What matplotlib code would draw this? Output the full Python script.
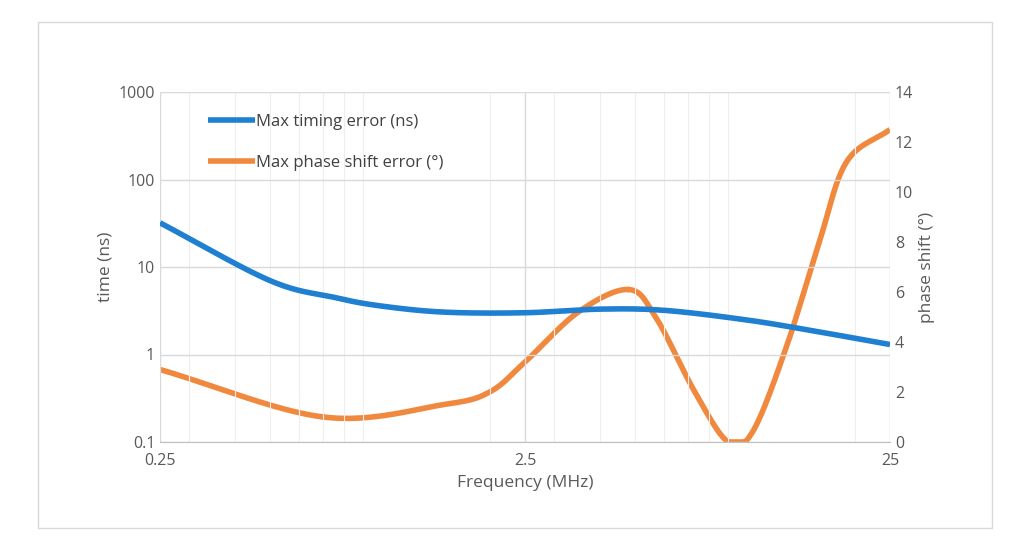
import numpy as np
import matplotlib
matplotlib.use("Agg")
import matplotlib.pyplot as plt
from matplotlib.patches import Rectangle
from matplotlib.ticker import FixedLocator, NullFormatter

plt.rcParams["font.family"] = "Open Sans"

freq_timing = [0.25, 0.5, 0.75, 1.0, 1.5, 2.5, 4.0, 6.0, 10.0, 15.0, 25.0]
timing_ns = [32, 7, 4.5, 3.6, 3.05, 3.0, 3.3, 3.2, 2.5, 1.9, 1.3]
freq_phase = [0.25, 0.7, 1.5, 2.0, 2.5, 3.5, 4.8, 5.7, 7.3, 9.0, 10.5, 13.0, 16.0, 19.0, 25.0]
phase_deg = [2.9, 1.0, 1.5, 2.0, 3.2, 5.2, 6.1, 5.0, 2.0, 0.0, 0.4, 3.8, 8.0, 11.2, 12.5]
xticks = [0.25, 2.5, 25]
xtick_labels = ["0.25", "2.5", "25"]
yticks_left = [0.1, 1, 10, 100, 1000]
ytick_left_labels = ["0.1", "1", "10", "100", "1000"]
yticks_right = [0, 2, 4, 6, 8, 10, 12, 14]

def smooth(x, y, n=40, logx=True, logy=False):
    x = np.log10(x) if logx else np.asarray(x, float)
    y = np.log10(y) if logy else np.asarray(y, float)
    P = np.column_stack([x, y])
    P = np.vstack([2 * P[0] - P[1], P, 2 * P[-1] - P[-2]])
    out = []
    for i in range(1, len(P) - 2):
        p0, p1, p2, p3 = P[i - 1], P[i], P[i + 1], P[i + 2]
        t = np.linspace(0, 1, n)[:, None]
        seg = 0.5 * ((2 * p1) + (-p0 + p2) * t + (2 * p0 - 5 * p1 + 4 * p2 - p3) * t ** 2
                     + (-p0 + 3 * p1 - 3 * p2 + p3) * t ** 3)
        out.append(seg)
    S = np.vstack(out)
    xs = 10 ** S[:, 0] if logx else S[:, 0]
    ys = 10 ** S[:, 1] if logy else S[:, 1]
    return xs, ys

fig = plt.figure(figsize=(10.24, 5.46), dpi=100)
fig.patches.append(Rectangle((38 / 1024, 1 - 528 / 546), (992 - 38) / 1024, (528 - 22) / 546,
                             transform=fig.transFigure, fill=False, ec="#d9d9d9", lw=1))
ax = fig.add_axes([160 / 1024, 1 - 442 / 546, 730 / 1024, 350 / 546])
ax2 = ax.twinx()
gray = "#595959"
ax.set_xscale("log"); ax.set_yscale("log")
ax.set_xlim(0.25, 25); ax.set_ylim(0.1, 1000)
ax2.set_ylim(0, 14)
ax.xaxis.set_major_locator(FixedLocator(xticks))
ax.set_xticklabels(xtick_labels)
minor = [m * d for d in (0.1, 1, 10) for m in range(2, 10) if 0.25 < m * d < 25]
minor += [0.3, 0.4, 0.5, 0.6, 0.7, 0.8, 0.9]
ax.xaxis.set_minor_locator(FixedLocator(sorted(set(minor))))
ax.xaxis.set_minor_formatter(NullFormatter())
ax.yaxis.set_major_locator(FixedLocator(yticks_left))
ax.set_yticklabels(ytick_left_labels)
ax.yaxis.set_minor_locator(FixedLocator([]))
ax2.set_yticks(yticks_right)
ax.grid(True, which="major", color="#d9d9d9", lw=1)
ax.grid(True, which="minor", axis="x", color="#eeeeee", lw=0.8)
for a in (ax, ax2):
    for s in a.spines.values():
        s.set_visible(False)
    a.tick_params(which="both", length=0, colors=gray, labelsize=11.5)
ax.spines["bottom"].set_visible(True); ax.spines["bottom"].set_color("#bfbfbf")
ax.tick_params(axis="x", pad=8)
ax.set_xlabel("Frequency (MHz)", color=gray, fontsize=12.5)
ax.set_ylabel("time (ns)", color=gray, fontsize=12.5)
ax2.set_ylabel("phase shift (°)", color=gray, fontsize=12.5)

bx, by = smooth(freq_timing, timing_ns, logy=True)
ox, oy = smooth(freq_phase, phase_deg)
oy = np.clip(oy, 0, None)
l1, = ax.plot(bx, by, color="#1f7fd1", lw=4, label="Max timing error (ns)", solid_capstyle="butt")
l2, = ax2.plot(ox, oy, color="#f0883e", lw=4, label="Max phase shift error (°)", solid_capstyle="butt")
ax.set_zorder(ax2.get_zorder() + 1); ax.patch.set_visible(False)
ax.legend([l1, l2], [l1.get_label(), l2.get_label()], loc="upper left",
          bbox_to_anchor=(0.045, 0.98), frameon=False, labelspacing=1.5,
          handlelength=2.8, handletextpad=0.1, fontsize=12, labelcolor="#404040")
fig.savefig("out.png", dpi=100)
